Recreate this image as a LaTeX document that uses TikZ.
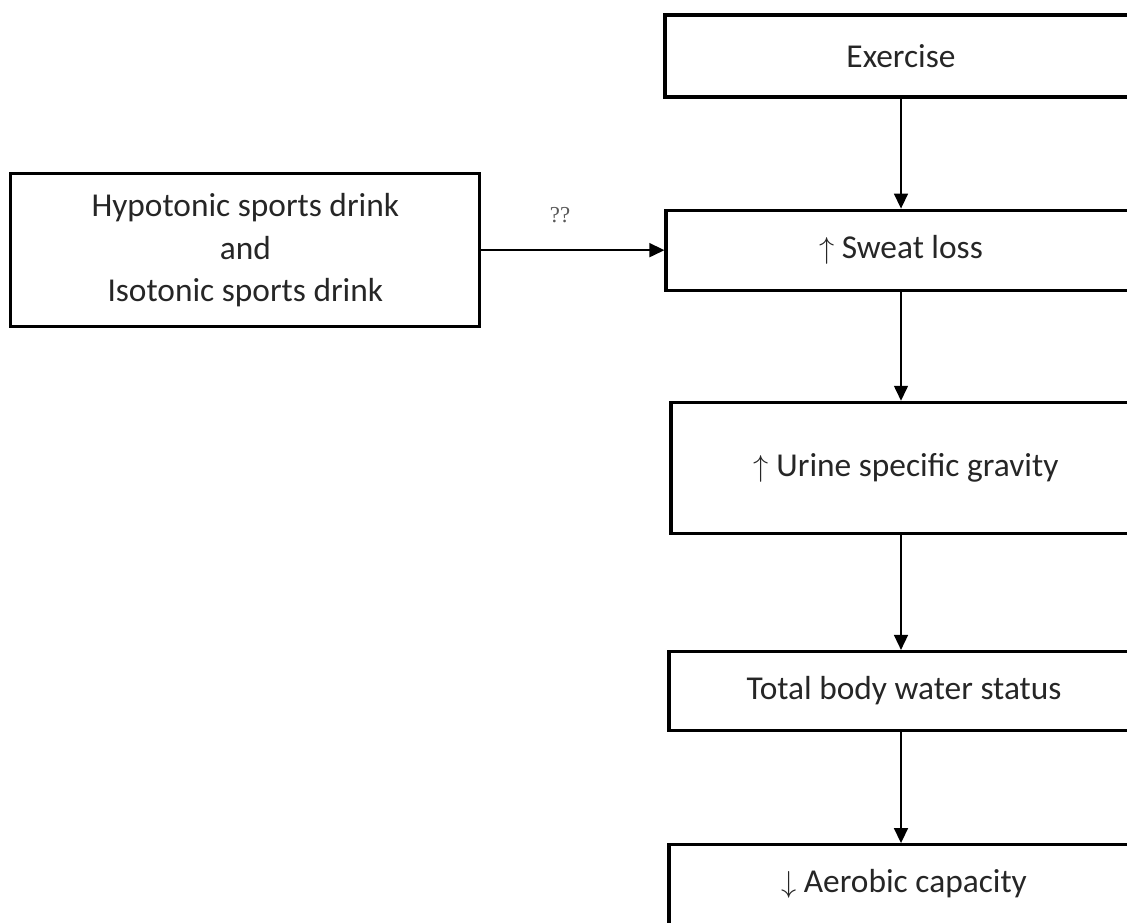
\documentclass[tikz,border=0pt]{standalone}
\usepackage{fontspec}
\setmainfont{Carlito}
\newfontfamily\qqfont{Liberation Serif}
\usetikzlibrary{arrows.meta, positioning}

\begin{document}
\begin{tikzpicture}[
  node distance=2.2cm,
  box/.style={rectangle, draw, line width=1.8pt, text=black!85,
              font=\fontsize{19}{24.2}\selectfont, align=center, inner sep=4pt},
  colbox/.style={box, minimum width=9.4cm, minimum height=1.6cm},
  arr/.style={-{Triangle[length=0.3cm,width=0.28cm]}, line width=0.9pt},
  lbl/.style={font=\qqfont\fontsize{13}{15}\selectfont, text=black!65}
]
\clip (0,0) rectangle (22.54,-18.44);

\node[colbox, minimum width=9.44cm, minimum height=1.64cm] (exer) at (18.02,-1.12) {Exercise};
\node[colbox, below=of exer] (sweat) {$\uparrow$ Sweat loss};
\node[colbox, below=2.18cm of sweat, xshift=0.1cm, minimum height=2.62cm] (urine)
      {$\uparrow$ Urine specific gravity};
\node[colbox, below=2.3cm of urine, xshift=-0.04cm, minimum height=1.58cm] (total)
      {Total body water status};
\node[colbox, below=2.22cm of total, minimum height=2.6cm, text depth=1.15cm] (aero)
      {$\downarrow$ Aerobic capacity};

% drinks box on the left, level with sweat loss
\node[box, left=3.66cm of sweat, minimum width=9.38cm, minimum height=3.06cm] (drink)
      {Hypotonic sports drink\\and\\Isotonic sports drink};

\draw[arr] (exer.south) -- (exer.south |- sweat.north);
\draw[arr] (sweat.south) -- (sweat.south |- urine.north);
\draw[arr] (urine.south -| sweat.south) -- (sweat.south |- total.north);
\draw[arr] (total.south -| sweat.south) -- (sweat.south |- aero.north);
\draw[arr] (drink) -- node[pos=0.43, above=0.42cm, lbl] (qq) {??} (sweat);

\end{tikzpicture}
\end{document}
